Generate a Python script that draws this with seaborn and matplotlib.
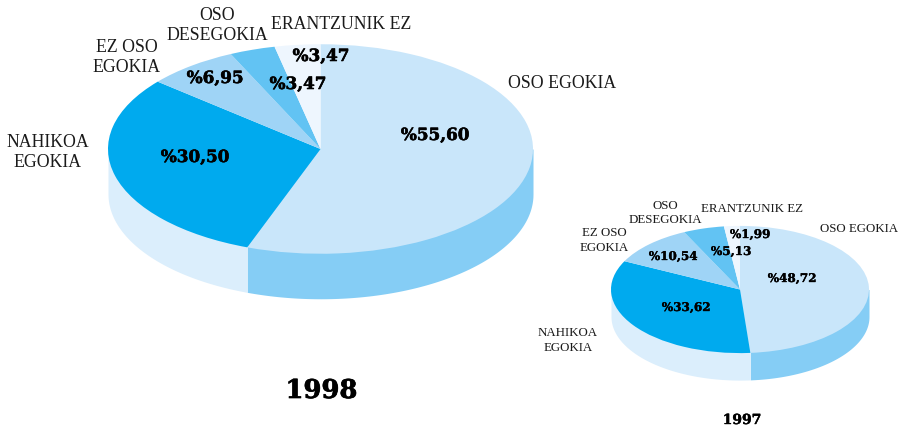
import numpy as np
import matplotlib
matplotlib.use('Agg')
import matplotlib.pyplot as plt
import matplotlib.patheffects as pe
import seaborn as sns

categories = ['OSO EGOKIA', 'NAHIKOA\nEGOKIA', 'EZ OSO\nEGOKIA', 'OSO\nDESEGOKIA', 'ERANTZUNIK EZ']
values_1998 = [55.60, 30.50, 6.95, 3.47, 3.47]
values_1997 = [48.72, 33.62, 10.54, 5.13, 1.99]

top_colors = sns.color_palette(['#C9E6FA', '#00AAEE', '#9FD4F6', '#62C3F3', '#EEF6FE'])
side_colors = sns.color_palette(['#85CDF5', '#DBEEFC', '#9FD4F6', '#62C3F3', '#EEF6FE'])

sns.set_theme(style='white')
plt.rcParams['font.family'] = ['Liberation Serif', 'DejaVu Serif']

# Everything below is laid out in image pixels, y is squashed to tilt the pies
TILT = 0.493
WIDTH, HEIGHT = 909, 432

fig = plt.figure(figsize=(WIDTH / 100, HEIGHT / 100), dpi=100)
ax = fig.add_axes([0, 0, 1, 1])


def py(y):
    return -y / TILT


def draw_pie(values, cx, cy, radius, depth):
    wedges, _ = ax.pie(values, colors=top_colors, startangle=90, counterclock=False,
                       radius=radius, center=(cx, py(cy)), normalize=True, frame=False,
                       wedgeprops={'linewidth': 0, 'edgecolor': 'none'})
    for w, col in zip(wedges, side_colors):
        a = max(w.theta1, -180)
        b = min(w.theta2, 0)
        if a >= b:
            continue
        t = np.radians(np.linspace(a, b, 120))
        x = cx + radius * np.cos(t)
        y = py(cy) + radius * np.sin(t)
        # wall runs up under the top face so no seam shows along the rim
        ax.fill_between(x, py(cy), y - depth / TILT, color=col, lw=0, zorder=0)


def pct(v):
    return '%' + f'{v:.2f}'.replace('.', ',')


def put_labels(label_pos, size):
    for txt, (x, y) in zip(categories, label_pos):
        ax.text(x, py(y), txt, ha='center', va='center', fontsize=size, color='#1a1a1a',
                linespacing=1.24, family='Liberation Serif')


def put_values(values, value_pos, size, stroke):
    for v, (x, y) in zip(values, value_pos):
        t = ax.text(x, py(y), pct(v), ha='center', va='center', fontsize=size, color='black',
                    fontweight='bold', family='DejaVu Serif')
        # the original bold face is heavier than DejaVu Serif Bold
        t.set_path_effects([pe.withStroke(linewidth=stroke, foreground='black')])


draw_pie(values_1998, 320.5, 149, 212.5, 45)
draw_pie(values_1997, 740, 289.5, 129, 27)

put_labels([(562, 83), (48, 152.5), (127, 57.5), (217, 25.5), (341, 24.5)], 12.8)
put_values(values_1998, [(435, 135.5), (195, 157.5), (215, 78.5), (298, 84.5), (321, 56.5)], 12.1, 0.4)

put_labels([(859, 229.5), (568, 340.5), (604, 240.5), (665, 213), (752, 209.5)], 9.3)
put_values(values_1997, [(792, 278.5), (686, 307.5), (673, 256.5), (731, 251.5), (750, 234.5)], 8.6, 0.25)

ax.text(321.5, py(390.5), '1998', ha='center', va='center', fontsize=18.6, fontweight='bold',
        family='DejaVu Serif', color='black',
        path_effects=[pe.withStroke(linewidth=0.5, foreground='black')])
ax.text(742, py(420), '1997', ha='center', va='center', fontsize=10, fontweight='bold',
        family='DejaVu Serif', color='black',
        path_effects=[pe.withStroke(linewidth=0.3, foreground='black')])

ax.set_aspect('auto')
ax.set_xlim(0, WIDTH)
ax.set_ylim(py(HEIGHT), 0)
ax.axis('off')

plt.savefig('out.png', dpi=100, facecolor='white')
